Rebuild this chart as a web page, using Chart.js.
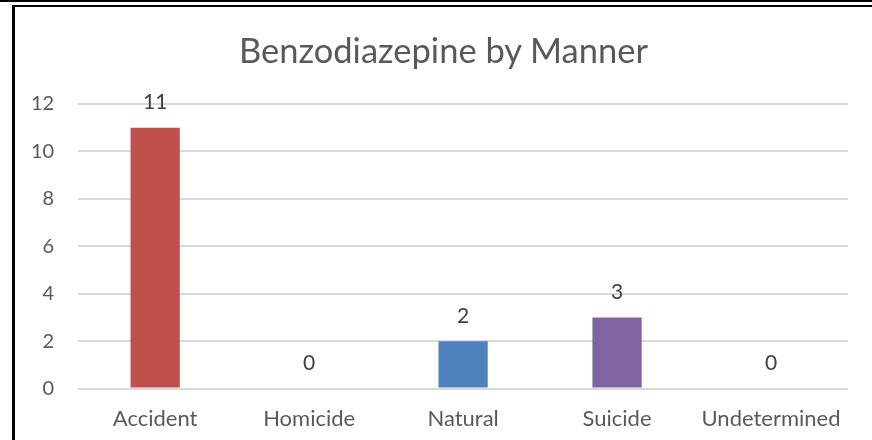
<!DOCTYPE html>
<html>
<head>
<meta charset="utf-8">
<script src="https://cdn.jsdelivr.net/npm/chart.js@4/dist/chart.umd.min.js"></script>
<style>
  html, body { margin: 0; padding: 0; background: #fff; }
  #wrap { position: relative; width: 872px; height: 440px; overflow: hidden; }
  #wrap canvas { position: absolute; left: 0; top: 0; }
  .line { position: absolute; background: #000; }
  #title {
    position: absolute; left: 15px; right: 0; top: 29px;
    text-align: center; font: 34.5px Lato, "Open Sans", sans-serif;
    line-height: 42px; color: #595959;
  }
</style>
</head>
<body>
<div id="wrap">
  <canvas id="chart" width="872" height="449"></canvas>
  <div id="title">Benzodiazepine by Manner</div>
  <div class="line" style="left:0;top:0;width:872px;height:2px"></div>
  <div class="line" style="left:12px;top:5px;width:860px;height:2px"></div>
  <div class="line" style="left:12px;top:5px;width:3px;height:435px"></div>
</div>
<script>
const categories = ['Accident', 'Homicide', 'Natural', 'Suicide', 'Undetermined'];
const counts = [11, 0, 2, 3, 0];
const barColors = ['#C0504D', '#9BBB59', '#4F81BD', '#8064A2', '#4BACC6'];
const yTicks = [0, 2, 4, 6, 8, 10, 12];

const FONT = 'Lato, "Open Sans", sans-serif';

// value labels over each bar
const valueLabels = {
    id: 'valueLabels',
    afterDatasetsDraw(chart) {
        const ctx = chart.ctx;
        const meta = chart.getDatasetMeta(0);
        ctx.save();
        ctx.font = '21px ' + FONT;
        ctx.fillStyle = '#404040';
        ctx.textAlign = 'center';
        ctx.textBaseline = 'middle';
        meta.data.forEach((bar, i) => {
            ctx.fillText(String(counts[i]), bar.x, bar.y - 25);
        });
        ctx.restore();
    }
};

new Chart(document.getElementById('chart'), {
    type: 'bar',
    data: {
        labels: categories,
        datasets: [{
            data: counts,
            backgroundColor: barColors,
            barPercentage: 0.32,
            categoryPercentage: 1.0
        }]
    },
    options: {
        responsive: false,
        animation: false,
        layout: { padding: { left: 7, right: 24, top: 104, bottom: 0 } },
        plugins: {
            legend: { display: false },
            tooltip: { enabled: false },
            title: { display: false }
        },
        scales: {
            x: {
                grid: { display: false, drawTicks: false },
                border: { display: false },
                ticks: {
                    color: '#595959',
                    padding: 17,
                    font: { family: FONT, size: 22 }
                }
            },
            y: {
                min: 0,
                max: 12,
                afterBuildTicks(axis) { axis.ticks = yTicks.map(v => ({ value: v })); },
                grid: { color: '#D9D9D9', lineWidth: 2, drawTicks: false },
                border: { display: false },
                ticks: {
                    color: '#595959',
                    padding: 24,
                    font: { family: FONT, size: 20 }
                }
            }
        }
    },
    plugins: [valueLabels]
});
</script>
</body>
</html>
